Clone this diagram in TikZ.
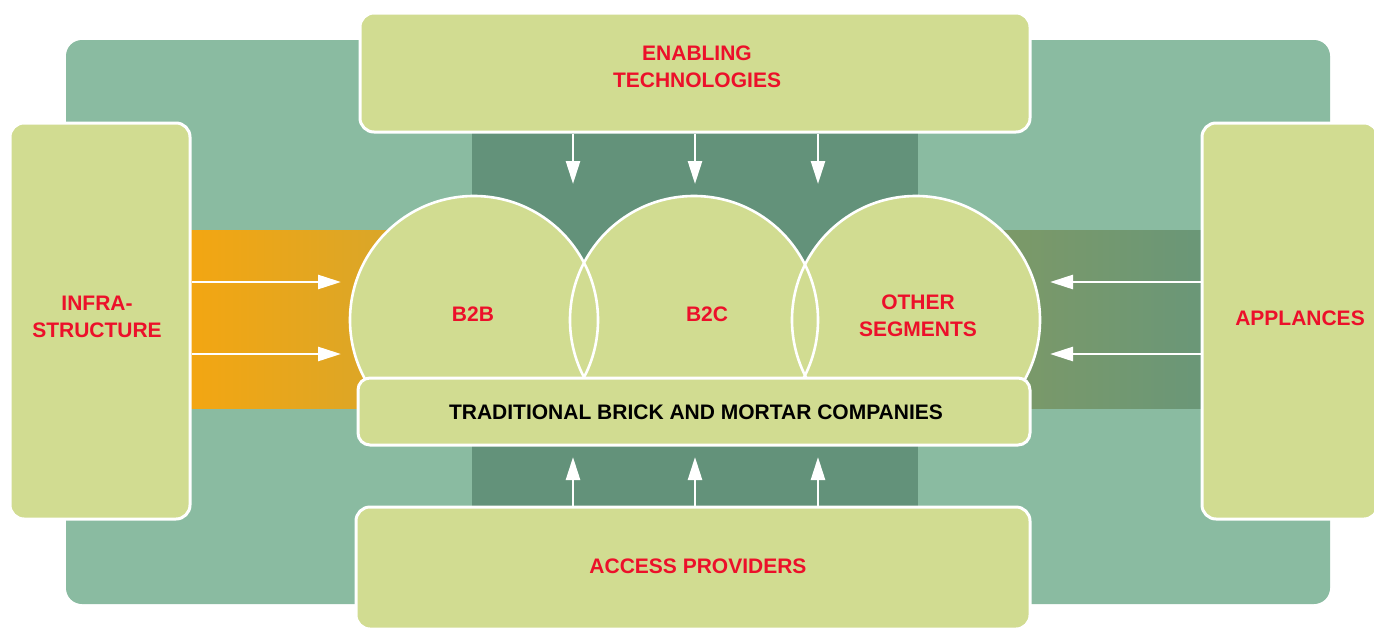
\documentclass[tikz,border=0pt]{standalone}
\usepackage{fontspec}
\setmainfont{Liberation Sans}
\usetikzlibrary{arrows.meta}
\definecolor{tealbg}{RGB}{138,187,161}
\definecolor{tealdk}{RGB}{99,146,122}
\definecolor{lgreen}{RGB}{209,220,145}
\definecolor{redc}{RGB}{236,16,42}
\definecolor{orgL}{RGB}{243,166,18}
\definecolor{orgR}{RGB}{216,166,42}
\definecolor{olvL}{RGB}{125,153,102}
\definecolor{olvR}{RGB}{106,151,120}
\begin{document}
\begin{tikzpicture}[x=1pt,y=-1pt,
  box/.style={fill=lgreen, draw=white, line width=3pt, rounded corners=14pt,
    inner sep=0pt},
  lbl/.style={text=redc, align=center, inner sep=0pt,
    font=\fontsize{21}{27}\selectfont\bfseries},
  arr/.style={draw=white, line width=2.6pt, -{Triangle[length=23pt,width=14pt]}}]
\useasboundingbox (0,0) rectangle (1374,627);
\clip (0,0) rectangle (1374,627);
% background panels
\fill[tealbg, rounded corners=16pt] (66,40) rectangle (1330,604);
\fill[tealdk] (472,128) rectangle (918,514);
\shade[left color=orgL, right color=orgR] (190,230) rectangle (400,408);
\shade[left color=olvL, right color=olvR] (990,230) rectangle (1204,408);
% outer boxes
\node[box, minimum width=670pt, minimum height=119pt] (top) at (695,72.5) {};
\node[box, minimum width=180pt, minimum height=396pt] (infra) at (100,321) {};
\node[box, minimum width=176pt, minimum height=396pt] (appl) at (1290,321) {};
\node[box, minimum width=674pt, minimum height=122pt] (access) at (693,568) {};
\node[lbl] (toptxt) at (697,67) {ENABLING\\TECHNOLOGIES};
\node[lbl] (infratxt) at (97,317) {INFRA-\\STRUCTURE};
\node[lbl] (appltxt) at (1300,318) {APPLANCES};
\node[lbl] (acctxt) at (698,566) {ACCESS PROVIDERS};
% arrow targets
\coordinate (dt1) at (573,184);
\coordinate (dt2) at (695,184);
\coordinate (dt3) at (818,184);
\coordinate (ut1) at (573,457);
\coordinate (ut2) at (695,457);
\coordinate (ut3) at (818,457);
\coordinate (lt1) at (341,282);
\coordinate (lt2) at (341,354);
\coordinate (rt1) at (1050,282);
\coordinate (rt2) at (1050,354);
\foreach \c in {dt1,dt2,dt3} \draw[arr] (top.south -| \c) -- (\c);
\foreach \c in {ut1,ut2,ut3} \draw[arr] (access.north -| \c) -- (\c);
\foreach \c in {lt1,lt2} \draw[arr] (infra.east |- \c) -- (\c);
\foreach \c in {rt1,rt2} \draw[arr] (appl.west |- \c) -- (\c);
% segment circles
\fill[lgreen] (474,320) circle (124pt) (694,320) circle (124pt) (916,320) circle (124pt);
\draw[white, line width=2.6pt] (474,320) circle (124pt) (694,320) circle (124pt) (916,320) circle (124pt);
\node[lbl] (b2b) at (473,314) {B2B};
\node[lbl] (b2c) at (707,314) {B2C};
\node[lbl] (oth) at (918,316) {OTHER\\SEGMENTS};
% base bar
\node[box, minimum width=672pt, minimum height=67pt, rounded corners=12pt] (trad) at (694,411.5) {};
\node[lbl, text=black] (tradtxt) at (696,412) {TRADITIONAL BRICK AND MORTAR COMPANIES};
\end{tikzpicture}
\end{document}
